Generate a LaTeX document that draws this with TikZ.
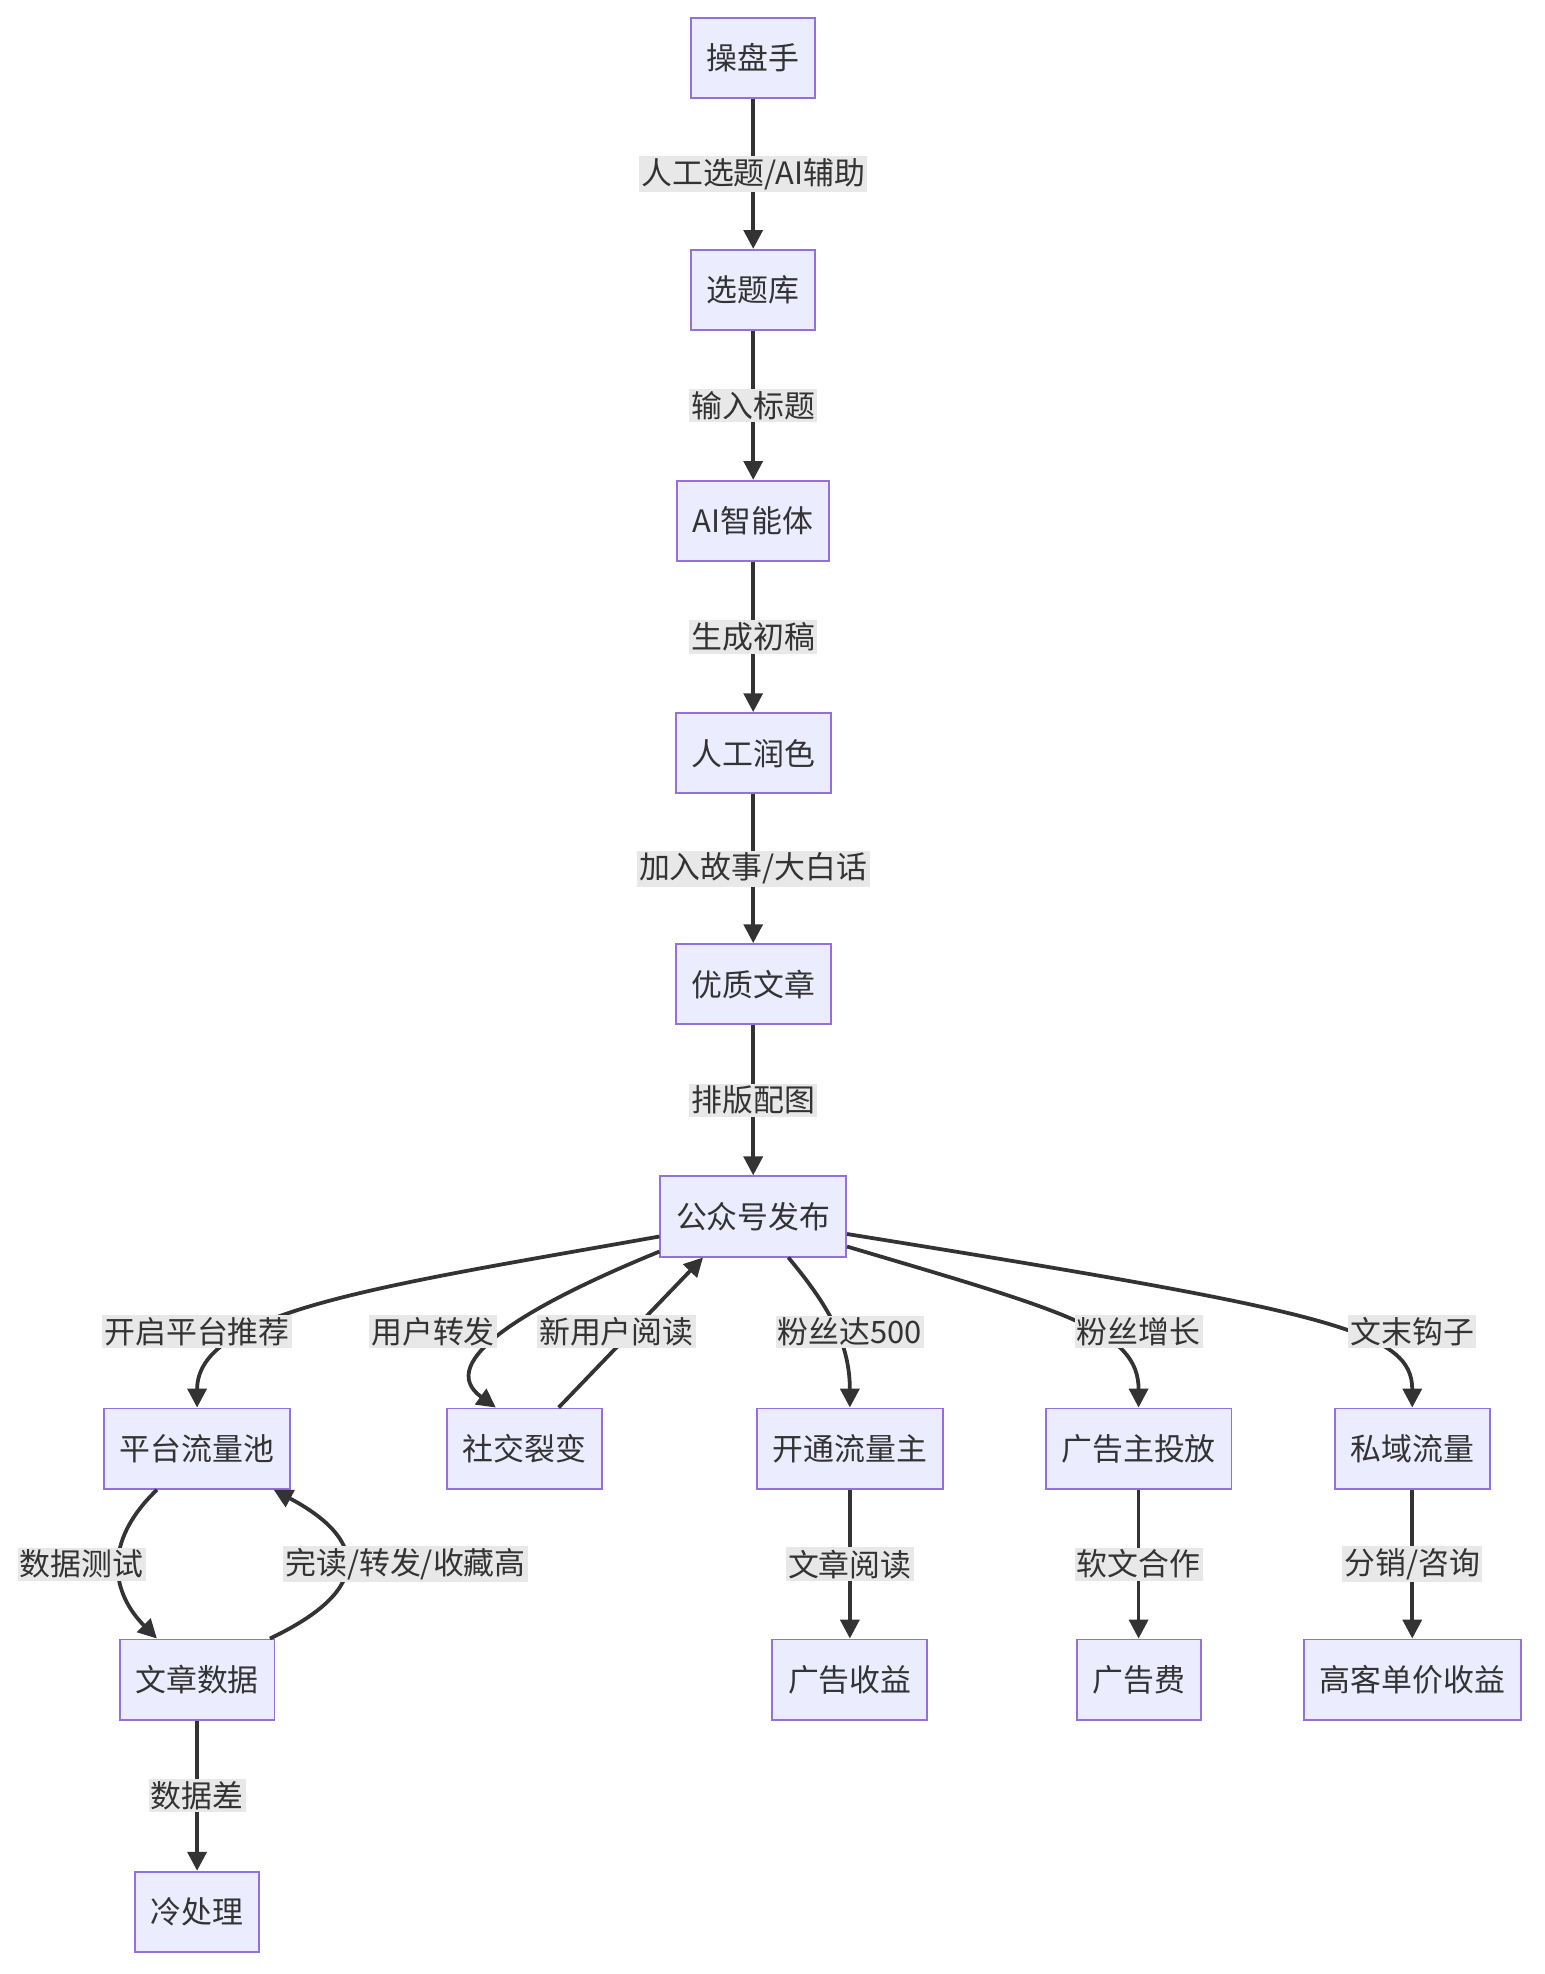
\documentclass[tikz,border=0pt]{standalone}
\usepackage{fontspec}
\setmainfont{Noto Sans CJK SC}
\usetikzlibrary{arrows.meta}
\definecolor{boxfill}{HTML}{ECECFF}
\definecolor{boxline}{HTML}{9370DB}
\definecolor{edgecol}{HTML}{333333}
\definecolor{lblfill}{HTML}{E8E8E8}

\begin{document}
\begin{tikzpicture}[x = 0.02cm, y = -0.02cm,
		box/.style = {draw = boxline, fill = boxfill, line width = 0.03cm, minimum height = 1.28cm, inner xsep = 0.25cm, font = \fontsize{14}{16}\selectfont, text = edgecol},
		lbl/.style = {fill = lblfill, inner sep = 1pt, font = \fontsize{14}{16}\selectfont, text = edgecol},
		edge/.style = {draw = edgecol, line width = 0.06cm, -{Triangle[length = 0.3cm, width = 0.3cm]}}]
			\useasboundingbox (0, 0) rectangle (1230, 1572.5);
			%\draw[help lines] (0,0) grid (1230,1570);
			\node[box] (cps) at (600, 46) {操盘手};
			\node[box] (xtk) at (600, 231) {选题库};
			\node[box] (ai) at (600, 415) {AI智能体};
			\node[box] (rs) at (600, 600) {人工润色};
			\node[box] (wz) at (600, 784) {优质文章};
			\node[box] (pub) at (600, 969) {公众号发布};
			
			\node[box] (pool) at (157, 1154) {平台流量池};
			\node[box] (lb) at (418, 1154) {社交裂变};
			\node[box] (llz) at (677, 1154) {开通流量主};
			\node[box] (ggz) at (907, 1154) {广告主投放};
			\node[box] (sy) at (1125, 1154) {私域流量};
			
			\node[box] (data) at (157, 1338) {文章数据};
			\node[box] (ggsy) at (677, 1338) {广告收益};
			\node[box] (ggf) at (907, 1338) {广告费};
			\node[box] (gkd) at (1125, 1338) {高客单价收益};
			\node[box] (cold) at (157, 1523) {冷处理};
			
			% main chain
			\draw[edge] (cps) -- node[lbl] {人工选题/AI辅助} (xtk);
			\draw[edge] (xtk) -- node[lbl] {输入标题} (ai);
			\draw[edge] (ai) -- node[lbl] {生成初稿} (rs);
			\draw[edge] (rs) -- node[lbl] {加入故事/大白话} (wz);
			\draw[edge] (wz) -- node[lbl] {排版配图} (pub);
			
			% fan out
			\draw[edge] (pub.west |- 0, 985) .. controls (300, 1025) and (157, 1045) .. (pool.north);
			\draw[edge] (pub.west |- 0, 997) .. controls (420, 1040) and (345, 1085) .. (lb.north west -| 395, 0);
			\draw[edge] (lb.north east -| 445, 0) -- (pub.south -| 560, 0);
			\draw[edge] (pub.south -| 628, 0) .. controls (660, 1040) and (677, 1070) .. (llz.north);
			\draw[edge] (pub.east |- 0, 993) .. controls (850, 1045) and (907, 1060) .. (ggz.north);
			\draw[edge] (pub.east |- 0, 983) .. controls (1060, 1045) and (1125, 1060) .. (sy.north);
			\node[lbl] (l1) at (157, 1061) {开启平台推荐};
			\node[lbl] (l2) at (345, 1061) {用户转发};
			\node[lbl] (l3) at (491, 1061) {新用户阅读};
			\node[lbl] (l4) at (677, 1061) {粉丝达500};
			\node[lbl] (l5) at (907, 1061) {粉丝增长};
			\node[lbl] (l6) at (1125, 1061) {文末钩子};
			
			% lower part
			\draw[edge] (pool.south -| 125, 0) .. controls (80, 1230) and (90, 1270) .. (data.north -| 125, 0);
			\draw[edge] (data.north -| 215, 0) .. controls (300, 1265) and (290, 1225) .. (pool.south -| 218, 0);
			\node[lbl] (l7) at (65, 1246) {数据测试};
			\node[lbl] (l8) at (323, 1246) {完读/转发/收藏高};
			\draw[edge] (llz) -- node[lbl] {文章阅读} (ggsy);
			\draw[edge] (ggz) -- node[lbl] {软文合作} (ggf);
			\draw[edge] (sy) -- node[lbl] {分销/咨询} (gkd);
			\draw[edge] (data) -- node[lbl] {数据差} (cold);
\end{tikzpicture}
\end{document}
